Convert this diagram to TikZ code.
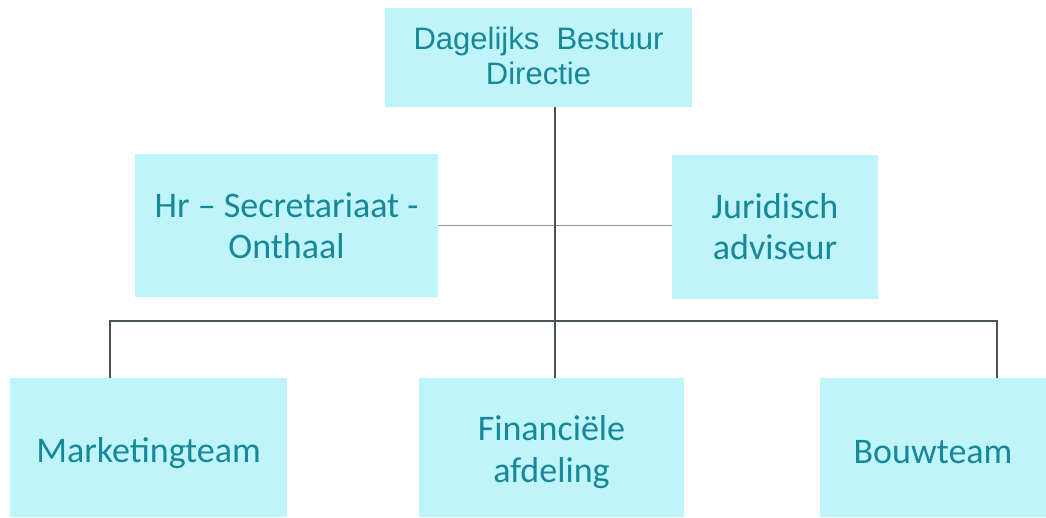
\documentclass[tikz,border=0pt]{standalone}
\usepackage{fontspec}
\setmainfont{Carlito}
\newfontfamily\arialfont{Liberation Sans}
\definecolor{boxfill}{RGB}{191,244,251}
\definecolor{boxtext}{RGB}{22,136,152}
\definecolor{linedark}{RGB}{72,82,92}
\definecolor{linelight}{RGB}{140,150,155}
\begin{document}
\begin{tikzpicture}[x=1pt,y=-1pt,
  orgbox/.style={fill=boxfill,draw=none,inner sep=0pt,align=center,text=boxtext,
    font=\fontsize{36}{41}\selectfont},
  boxlabel/.style={inner sep=0pt,align=center,text=boxtext,font=\fontsize{36}{42}\selectfont},
  topfont/.style={font=\arialfont\fontsize{31}{35}\selectfont},
  bus/.style={draw=linedark,line width=1.8pt},
  side/.style={draw=linelight,line width=1.4pt}]
\useasboundingbox (0,0) rectangle (1046,517);
\node[orgbox,minimum width=307pt,minimum height=99pt] (top) at (538.5,57.5) {};
\node[boxlabel,topfont] (topt) at ([yshift=2pt]top.center) {Dagelijks\ \ Bestuur\\Directie};
\node[orgbox,minimum width=303pt,minimum height=143pt] (hr) at (286.5,225.5) {Hr -- Secretariaat -\\Onthaal};
\node[orgbox,minimum width=206pt,minimum height=144pt] (jur) at (775,227) {Juridisch\\adviseur};
\node[orgbox,minimum width=277pt,minimum height=139pt] (mk) at (148.5,447.5) {};
\node[orgbox,minimum width=265pt,minimum height=139pt] (fin) at (551.5,447.5) {};
\node[orgbox,minimum width=226pt,minimum height=139pt] (bw) at (933,447.5) {};
\node[boxlabel] (mkt) at ([yshift=-6pt]mk.center) {Marketingteam};
\node[boxlabel] (fint) at ([yshift=-5pt]fin.center) {Financiële\\afdeling};
\node[boxlabel] (bwt) at ([yshift=-5pt]bw.center) {Bouwteam};
\coordinate (t) at (555,107);
\coordinate (bl) at (110,321);
\coordinate (br) at (997,321);
\draw[side] (hr.east) -- (hr.east -| jur.west);
\draw[bus] (t |- top.south) -- (t |- fin.north);
\draw[bus] (bl |- mk.north) -- (bl) -- (br) -- (br |- bw.north);
\end{tikzpicture}
\end{document}
